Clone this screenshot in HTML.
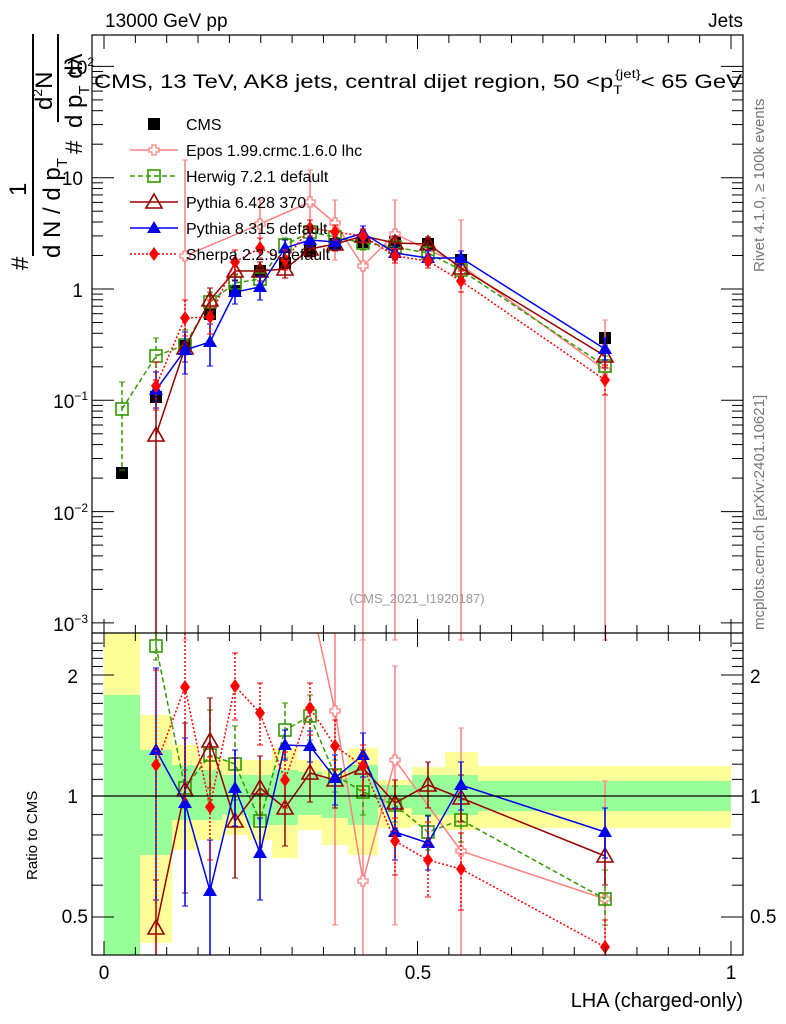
<!DOCTYPE html>
<html><head><meta charset="utf-8"><style>
body{margin:0;background:#fff}
svg{display:block;font-family:"Liberation Sans",sans-serif}
</style></head><body>
<svg id="s" width="786" height="1024" viewBox="0 0 786 1024" xmlns="http://www.w3.org/2000/svg">
<g id="bands"></g>
<g id="g"></g>
<line x1="92" y1="796" x2="743" y2="796" stroke="#000" stroke-width="1.2"/>
<rect x="92" y="35" width="651" height="920" fill="none" stroke="#000" stroke-width="1.2"/>
<line x1="92" y1="633" x2="743" y2="633" stroke="#000" stroke-width="1.2"/>
<g id="ticks" stroke="#000" stroke-width="1"></g>
<text x="105" y="27" font-size="19">13000 GeV pp</text>
<text x="743" y="27" font-size="19" text-anchor="end">Jets</text>
<text x="94" y="88" font-size="19" textLength="648" lengthAdjust="spacingAndGlyphs">CMS, 13 TeV, AK8 jets, central dijet region, 50 &lt;p<tspan font-size="12" dy="6">T</tspan><tspan font-size="12" dy="-16" dx="-6">{jet}</tspan><tspan dy="10">&lt; 65 GeV</tspan></text>
<text x="94" y="74" font-size="19" text-anchor="end">10<tspan font-size="12" dy="-8">2</tspan></text>
<text x="83" y="185" font-size="19" text-anchor="end">10</text>
<text x="83" y="297" font-size="19" text-anchor="end">1</text>
<text x="88" y="408" font-size="19" text-anchor="end">10<tspan font-size="12" dy="-8">−1</tspan></text>
<text x="88" y="520" font-size="19" text-anchor="end">10<tspan font-size="12" dy="-8">−2</tspan></text>
<text x="88" y="631" font-size="19" text-anchor="end">10<tspan font-size="12" dy="-8">−3</tspan></text>
<text x="78" y="683" font-size="19" text-anchor="end">2</text>
<text x="78" y="803" font-size="19" text-anchor="end">1</text>
<text x="88" y="923" font-size="19" text-anchor="end">0.5</text>
<text x="750" y="683" font-size="19">2</text>
<text x="750" y="803" font-size="19">1</text>
<text x="750" y="923" font-size="19">0.5</text>
<text x="104" y="979" font-size="19" text-anchor="middle">0</text>
<text x="418" y="979" font-size="19" text-anchor="middle">0.5</text>
<text x="731" y="979" font-size="19" text-anchor="middle">1</text>
<text x="743" y="1007" font-size="20" text-anchor="end">LHA (charged-only)</text>
<text transform="translate(37,880) rotate(-90)" font-size="15">Ratio to CMS</text>
<g transform="translate(0,270) rotate(-90)" font-size="24">
<text x="0" y="28">#</text>
<text x="74" y="26">1</text>
<line x1="14" y1="33" x2="236" y2="33" stroke="#000" stroke-width="2"/>
<text x="12" y="60">d N / d p<tspan font-size="15" dy="7">T</tspan></text>
<text x="116" y="82">#</text>
<line x1="148" y1="58" x2="236" y2="58" stroke="#000" stroke-width="2"/>
<text x="160" y="52">d<tspan font-size="14" dy="-10">2</tspan><tspan dy="10">N</tspan></text>
<text x="142" y="82">d p<tspan font-size="15" dy="7">T</tspan><tspan dy="-7"> dλ</tspan></text>
</g>
<text transform="translate(764,272) rotate(-90)" font-size="15" fill="#777">Rivet 4.1.0, ≥ 100k events</text>
<text transform="translate(764,630) rotate(-90)" font-size="15" fill="#777">mcplots.cern.ch [arXiv:2401.10621]</text>
<text x="417" y="603" font-size="13" fill="#999" text-anchor="middle">(CMS_2021_I1920187)</text>
<g id="leg" font-size="16"></g>
</svg>
<script>
const NS="http://www.w3.org/2000/svg";
function el(p,t,a){const e=document.createElementNS(NS,t);for(const k in a)e.setAttribute(k,a[k]);p.appendChild(e);return e;}
const g=document.getElementById('g'),tk=document.getElementById('ticks'),bd=document.getElementById('bands'),lg=document.getElementById('leg');
const X=[122,156,185,210,235,260,285,310,335,363,395,428,461,605];
const edges=[104,140,172,198,222,248,272,298,322,348,378,412,445,478,731];
const yb=[[633,955],[715,943],[745,850],[758,840],[760,835],[760,840],[748,858],[760,830],[770,845],[748,855],[780,828],[767,825],[752,830],[766,828]];
const gb=[[695,955],[750,855],[765,820],[770,820],[775,815],[775,825],[770,825],[772,815],[778,818],[765,825],[785,808],[775,815],[775,815],[781,811]];
for(let i=0;i<14;i++){
 el(bd,'rect',{x:edges[i],y:yb[i][0],width:edges[i+1]-edges[i],height:yb[i][1]-yb[i][0],fill:'#ffff99'});
 el(bd,'rect',{x:edges[i],y:gb[i][0],width:edges[i+1]-edges[i],height:gb[i][1]-gb[i][0],fill:'#99ff99'});
}
for(let v=0;v<=1.0001;v+=0.05){const x=104+627*v;const L=(Math.abs(v-0.5)<1e-6||v<1e-6||v>0.999)?14:8;
 el(tk,'line',{x1:x,y1:35,x2:x,y2:35+L});el(tk,'line',{x1:x,y1:633,x2:x,y2:633-L});
 el(tk,'line',{x1:x,y1:633,x2:x,y2:633+L});el(tk,'line',{x1:x,y1:955,x2:x,y2:955-L});}
const ymain=v=>289-111.3*Math.log10(v);
for(let d=-3;d<=2;d++)for(let m=1;m<10;m++){const y=ymain(m*Math.pow(10,d));if(y<35||y>633)continue;const L=m==1?22:11;
 el(tk,'line',{x1:92,y1:y,x2:92+L,y2:y});el(tk,'line',{x1:743,y1:y,x2:743-L,y2:y});}
const yr=r=>796-402*Math.log10(r);
for(let r=0.4;r<=2.5;r+=0.1){const y=yr(r);if(y<633||y>955)continue;const mj=[0.5,1,2].some(q=>Math.abs(q-r)<1e-6);const L=mj?22:11;
 el(tk,'line',{x1:92,y1:y,x2:92+L,y2:y});el(tk,'line',{x1:743,y1:y,x2:743-L,y2:y});}
function marker(p,type,x,y,c){
 if(type=='sq')el(p,'rect',{x:x-6,y:y-6,width:12,height:12,fill:'#000'});
 else if(type=='osq')el(p,'rect',{x:x-6,y:y-6,width:12,height:12,fill:'#fff','fill-opacity':0,stroke:c,'stroke-width':1.6});
 else if(type=='otri')el(p,'polygon',{points:`${x},${y-8} ${x-8},${y+6} ${x+8},${y+6}`,fill:'none',stroke:c,'stroke-width':1.6});
 else if(type=='tri')el(p,'polygon',{points:`${x},${y-7} ${x-7},${y+5} ${x+7},${y+5}`,fill:c});
 else if(type=='dia')el(p,'polygon',{points:`${x},${y-7} ${x-5},${y} ${x},${y+7} ${x+5},${y}`,fill:c});
 else if(type=='cross'){el(p,'path',{d:`M${x-2},${y-5}h4v3h3v4h-3v3h-4v-3h-3v-4h3z`,fill:'#fff',stroke:c,'stroke-width':1.3});}
}
const S=[
 {n:'Epos 1.99.crmc.1.6.0 lhc',c:'#ff8080',t:'cross',d:'',w:1.5,
  m:[null,null,256,null,null,224,null,202,223,266,234,null,265,370],
  me:[null,null,[160,640],null,null,[200,250],null,[170,230],[200,260],[230,640],[200,640],null,[220,640],[320,640]],
  r:[null,null,null,null,null,null,null,null,711,881,760,null,851,899],
  re:[null,null,null,null,null,null,null,null,[633,925],[633,955],[666,925],null,[728,955],[781,955]],
  rpre:[[318,633]]},
 {n:'Herwig 7.2.1 default',c:'#339900',t:'osq',d:'5,3',w:1.5,
  m:[409,356,345,302,283,279,245,232,237,243,247,253,270,366],
  me:[[382,470],[338,372],[330,355],[292,312],[275,292],[270,288],[238,252],[225,240],[230,244],[236,250],[240,254],[246,260],[262,278],[356,378]],
  r:[null,646,788,755,764,821,730,716,775,792,805,832,820,899],
  re:[null,[633,660],[770,808],[710,800],[726,800],[795,855],[703,758],[695,740],[760,792],[770,815],[786,822],[815,850],[800,842],[870,925]]},
 {n:'Pythia 6.428 370',c:'#990000',t:'otri',d:'',w:1.5,
  m:[null,435,348,300,271,271,269,249,244,236,243,244,268,356],
  me:[null,[380,640],[332,362],[288,315],[262,281],[262,281],[260,278],[241,257],[237,251],[229,243],[236,250],[237,251],[259,277],[345,368]],
  r:[null,928,790,741,821,788,808,773,780,768,803,785,798,856],
  re:[null,[880,955],[723,893],[698,788],[758,878],[756,847],[780,846],[748,802],[755,808],[750,795],[780,828],[762,808],[775,822],[830,885]]},
 {n:'Pythia 8.315 default',c:'#0000ee',t:'tri',d:'',w:1.5,
  m:[null,390,350,342,292,287,248,240,242,233,253,258,258,349],
  me:[null,[372,408],[332,374],[324,366],[280,304],[276,300],[240,256],[233,247],[235,249],[226,241],[246,260],[251,265],[251,265],[338,360]],
  r:[null,750,803,891,788,853,745,746,778,755,832,843,785,832],
  re:[null,[668,900],[738,906],[840,955],[750,826],[818,900],[730,760],[731,762],[755,805],[733,777],[808,860],[816,870],[762,810],[808,858]]},
 {n:'Sherpa 2.2.9 default',c:'#ff0000',t:'dia',d:'2,2',w:1.5,
  m:[null,386,318,317,262,248,260,228,232,236,256,261,281,380],
  me:[null,[362,410],[300,336],[300,334],[250,274],[238,258],[250,270],[220,236],[225,240],[229,243],[249,263],[254,268],[271,292],[365,395]],
  r:[null,765,687,807,686,713,780,708,746,766,841,860,869,947],
  re:[null,[670,955],[633,800],[757,860],[653,720],[683,745],[752,808],[683,735],[720,770],[745,790],[818,875],[822,897],[833,910],[920,955]]}
];
const cms=[473,397,346,314,291,271,263,251,244,242,242,244,260,338];
function series(s,vals,errs,pre){
 const grp=el(g,'g',{});
 const pts=[];vals.forEach((v,i)=>{if(v!=null)pts.push([X[i],v]);});
 let d=pre?`M${pre[0][0]},${pre[0][1]}`:'';
 pts.forEach((p,i)=>d+=(d==''?'M':'L')+p[0]+','+p[1]);
 el(grp,'path',{d:d,fill:'none',stroke:s.c,'stroke-width':s.w,'stroke-dasharray':s.d});
 errs.forEach((e,i)=>{if(!e)return;const x=X[i];
  el(grp,'line',{x1:x,y1:e[0],x2:x,y2:e[1],stroke:s.c,'stroke-width':1.5,'stroke-dasharray':s.d});
  el(grp,'line',{x1:x-3,y1:e[0],x2:x+3,y2:e[0],stroke:s.c,'stroke-width':1});
  el(grp,'line',{x1:x-3,y1:e[1],x2:x+3,y2:e[1],stroke:s.c,'stroke-width':1});});
 vals.forEach((v,i)=>{if(v!=null)marker(grp,s.t,X[i],v,s.c);});
}
cms.forEach((v,i)=>marker(g,'sq',X[i],v,'#000'));
S.forEach(s=>series(s,s.m,s.me));
S.forEach(s=>series(s,s.r,s.re,s.rpre));
marker(lg,'sq',154,124,'#000');el(lg,'text',{x:186,y:130}).textContent='CMS';
S.forEach((s,i)=>{const y=150+26*i;
 el(lg,'line',{x1:130,y1:y,x2:178,y2:y,stroke:s.c,'stroke-width':1.5,'stroke-dasharray':s.d});
 marker(lg,s.t,154,y,s.c);
 el(lg,'text',{x:186,y:y+6}).textContent=s.n;});
</script>
</body></html>
